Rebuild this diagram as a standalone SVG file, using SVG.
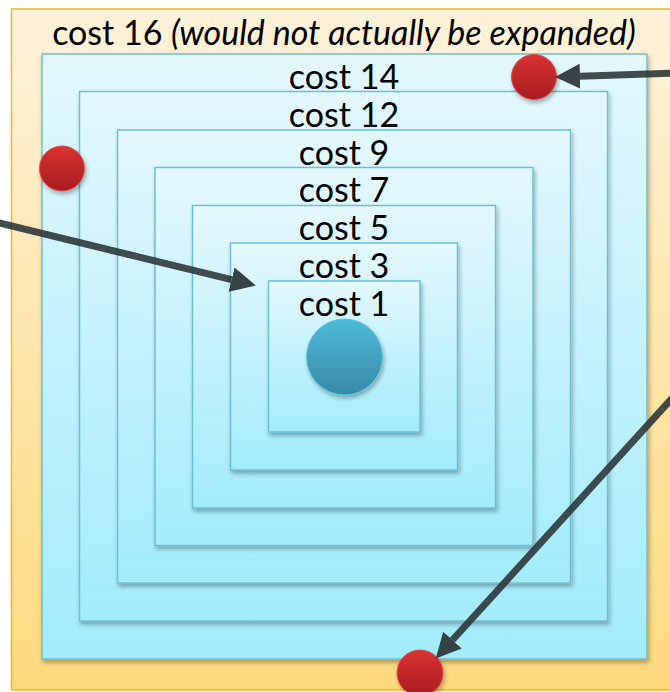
<svg xmlns="http://www.w3.org/2000/svg" width="670" height="692" viewBox="0 0 670 692">
<style>
  .lbl { font-family: Lato, "Open Sans", "Liberation Sans", sans-serif; font-size: 34px; fill: #000; text-anchor: middle; }
  .sq { fill: url(#gBlue); stroke: #6DBFD5; stroke-width: 1.5; filter: url(#sh); }
  .red { fill: url(#gRed); stroke: #D94A4A; stroke-width: 1; filter: url(#sh); }
  .arr { stroke: #2A3336; stroke-opacity: 0.88; stroke-width: 7; fill: none; marker-end: url(#ah); }
</style>
<defs>
  <linearGradient id="gOrange" x1="0" y1="0" x2="0" y2="1">
    <stop offset="0" stop-color="#FEF2DA"/>
    <stop offset="1" stop-color="#FCDA7C"/>
  </linearGradient>
  <linearGradient id="gBlue" x1="0" y1="0" x2="0" y2="1">
    <stop offset="0" stop-color="#E3F8FD"/>
    <stop offset="1" stop-color="#A2ECFB"/>
  </linearGradient>
  <linearGradient id="gRed" x1="0" y1="0" x2="0" y2="1">
    <stop offset="0" stop-color="#DA3232"/>
    <stop offset="1" stop-color="#A81C20"/>
  </linearGradient>
  <linearGradient id="gTeal" x1="0" y1="0" x2="0" y2="1">
    <stop offset="0" stop-color="#4DBBD9"/>
    <stop offset="1" stop-color="#3889A6"/>
  </linearGradient>
  <filter id="sh" x="-20%" y="-20%" width="140%" height="140%">
    <feDropShadow dx="1.5" dy="3" stdDeviation="2" flood-color="#000" flood-opacity="0.3"/>
  </filter>
  <marker id="ah" markerUnits="userSpaceOnUse" markerWidth="26" markerHeight="26" refX="0" refY="12" orient="auto" viewBox="0 0 24 24">
    <path d="M0,0.5 L23,12 L0,23.5 z" fill="#2A3336" fill-opacity="0.92"/>
  </marker>
</defs>

<g id="cost16">
  <rect x="11.5" y="9" width="680" height="681" fill="url(#gOrange)" stroke="#F2B22A" stroke-width="1.5"/>
  <text class="lbl" x="344" y="44.5">cost 16 <tspan font-style="italic">(would not actually be expanded)</tspan></text>
</g>
<g id="cost14">
  <rect class="sq" x="42" y="54" width="605" height="605"/>
  <text class="lbl" x="344" y="89">cost 14</text>
</g>
<g id="cost12">
  <rect class="sq" x="79.5" y="91.5" width="528" height="529.5"/>
  <text class="lbl" x="344" y="127">cost 12</text>
</g>
<g id="cost9">
  <rect class="sq" x="117.5" y="130" width="453" height="453"/>
  <text class="lbl" x="344" y="164.5">cost 9</text>
</g>
<g id="cost7">
  <rect class="sq" x="155" y="167.5" width="378" height="378"/>
  <text class="lbl" x="344" y="202">cost 7</text>
</g>
<g id="cost5">
  <rect class="sq" x="192.5" y="205.5" width="303" height="302.5"/>
  <text class="lbl" x="344" y="240">cost 5</text>
</g>
<g id="cost3">
  <rect class="sq" x="230.5" y="243" width="227" height="227"/>
  <text class="lbl" x="344" y="278">cost 3</text>
</g>
<g id="cost1">
  <rect class="sq" x="268.5" y="281" width="151.5" height="151"/>
  <text class="lbl" x="344" y="315.5">cost 1</text>
</g>

<g id="start">
  <circle cx="344.5" cy="357" r="38" fill="url(#gTeal)" stroke="#5CC3DE" stroke-width="1" filter="url(#sh)"/>
</g>
<g id="goal1"><circle class="red" cx="534" cy="77" r="22.5"/></g>
<g id="goal2"><circle class="red" cx="62" cy="168.5" r="22.5"/></g>
<g id="goal3"><circle class="red" cx="420" cy="673" r="23"/></g>

<g id="connectors">
  <line class="arr" x1="-5" y1="222" x2="231.6" y2="279.6"/>
  <line class="arr" x1="675" y1="73" x2="580" y2="76.2"/>
  <line class="arr" x1="675" y1="395" x2="452.5" y2="640"/>
</g>
</svg>
